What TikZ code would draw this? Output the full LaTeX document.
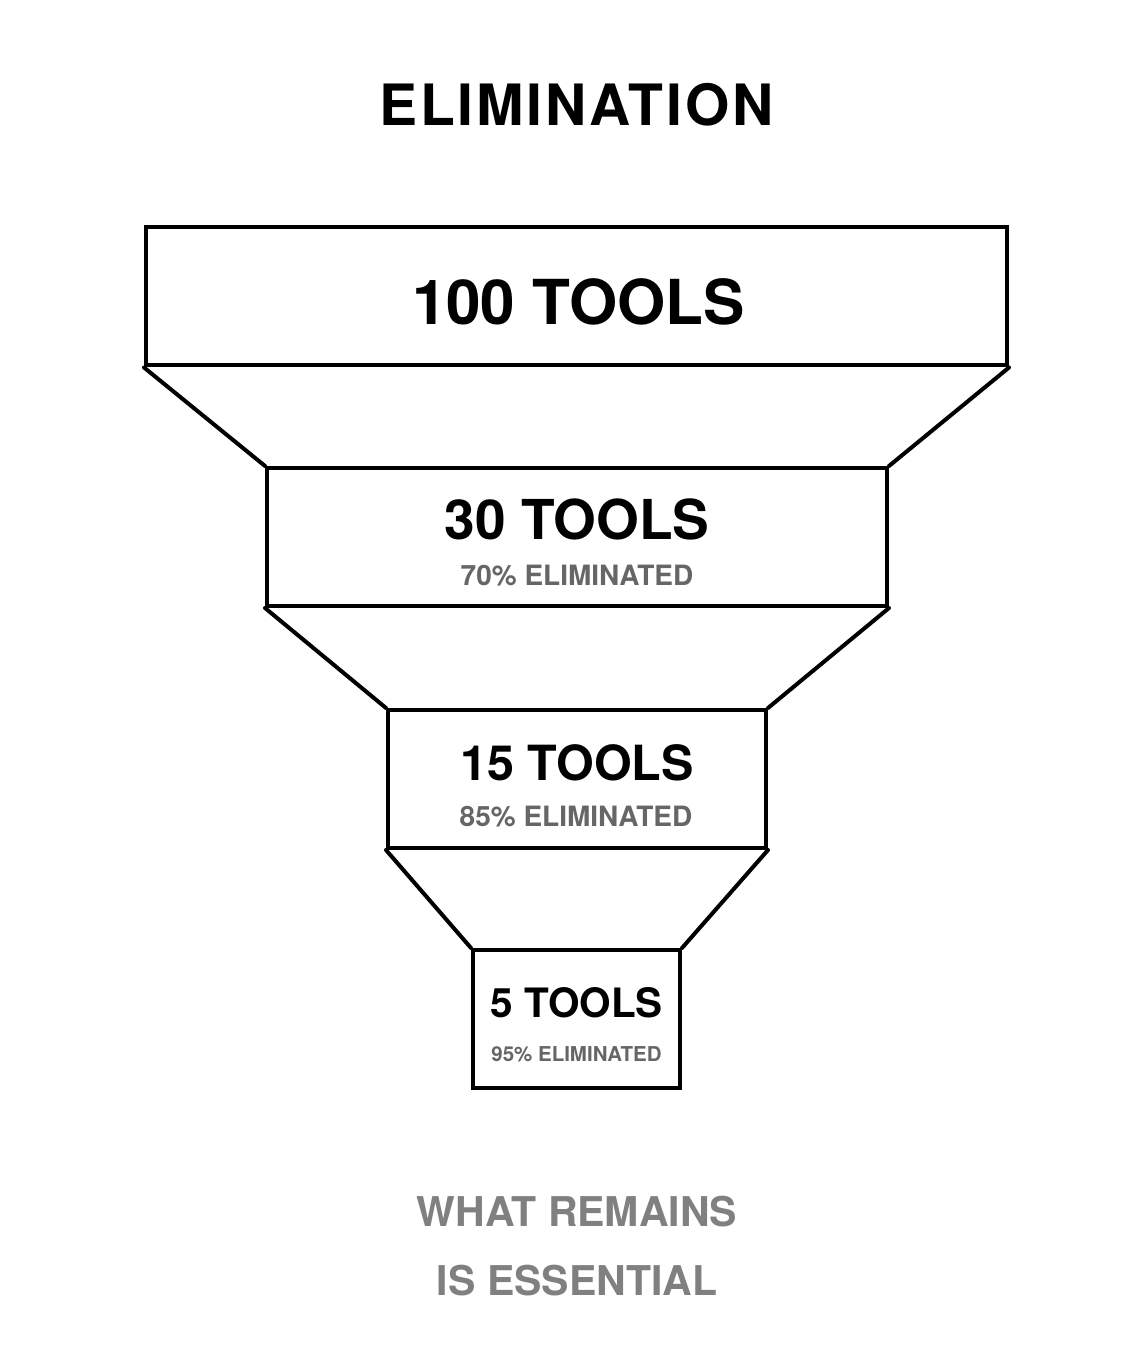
\documentclass[tikz,border=0pt]{standalone}
\usepackage{fontspec}
\usepackage{xcolor}
\setmainfont{TeX Gyre Heros}
\newfontfamily\titlefont[LetterSpace=5]{TeX Gyre Heros}
\definecolor{darkgray}{HTML}{666666}
\definecolor{midgray}{HTML}{808080}

\begin{document}
\begin{tikzpicture}[x=1pt, y=1pt,
  stage/.style={draw=black, line width=4pt, minimum height=138pt, inner sep=0pt},
  funnel/.style={line width=4pt, line cap=round},
  count/.style={anchor=base, text=black, font=\bfseries},
  share/.style={anchor=base, text=darkgray, font=\bfseries}]
\useasboundingbox[fill=white] (0,0) rectangle (1132,1358);

\node[anchor=base, font=\titlefont\bfseries\fontsize{57}{60}\selectfont] (title) at (576.5,1232) {ELIMINATION};

\node[stage, minimum width=861pt] (box100) at (576.5,1061.5) {};
\node[stage, minimum width=620pt] (box30) at (577,821) {};
\node[stage, minimum width=378pt] (box15) at (577,579) {};
\node[stage, minimum width=207pt] (box5) at (576.5,339) {};

\draw[funnel] (box100.south west) -- (box30.north west);
\draw[funnel] (box100.south east) -- (box30.north east);
\draw[funnel] (box30.south west) -- (box15.north west);
\draw[funnel] (box30.south east) -- (box15.north east);
\draw[funnel] (box15.south west) -- (box5.north west);
\draw[funnel] (box15.south east) -- (box5.north east);

\node[count, font=\bfseries\fontsize{62}{66}\selectfont] (n100) at (578.5,1033) {100 TOOLS};
\node[count, font=\bfseries\fontsize{55}{58}\selectfont] (n30) at (577,818) {30 TOOLS};
\node[share, font=\bfseries\fontsize{28}{30}\selectfont] (p30) at (577,772) {70\% ELIMINATED};
\node[count, font=\bfseries\fontsize{48.5}{52}\selectfont] (n15) at (577,577) {15 TOOLS};
\node[share, font=\bfseries\fontsize{28}{30}\selectfont] (p15) at (576,531) {85\% ELIMINATED};
\node[count, font=\bfseries\fontsize{40.5}{44}\selectfont] (n5) at (576.5,340) {5 TOOLS};
\node[share, font=\bfseries\fontsize{20.5}{22}\selectfont] (p5) at (576.5,296) {95\% ELIMINATED};

\node[anchor=base, text=midgray, font=\bfseries\fontsize{41}{44}\selectfont] (remain) at (577,131) {WHAT REMAINS};
\node[anchor=base, text=midgray, font=\bfseries\fontsize{41}{44}\selectfont] (essential) at (577,62) {IS ESSENTIAL};
\end{tikzpicture}
\end{document}
